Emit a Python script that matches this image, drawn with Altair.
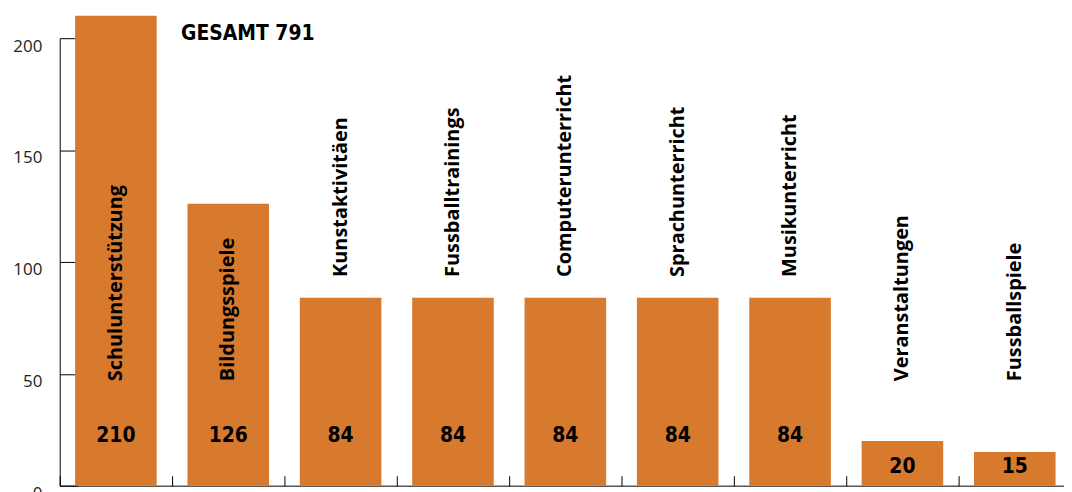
import altair as alt
import pandas as pd

categories = ["Schulunterstützung", "Bildungsspiele", "Kunstaktivitäen", "Fussballtrainings",
              "Computerunterricht", "Sprachunterricht", "Musikunterricht", "Veranstaltungen",
              "Fussballspiele"]
values = [210, 126, 84, 84, 84, 84, 84, 20, 15]
y_ticks = [0, 50, 100, 150, 200]
total_label = "GESAMT 791"

ORANGE = "#D77A2E"
W = 1010
H = 450
FULL = 1017
COND = "DejaVu Sans Condensed"

df = pd.DataFrame({"cat": categories, "value": values})

xenc = alt.X("cat:N", sort=categories,
             scale=alt.Scale(range=[0, FULL], paddingInner=0.274, paddingOuter=0.137),
             axis=alt.Axis(orient="top", offset=-H, labels=False, title=None,
                           ticks=True, tickSize=10, tickColor="black", tickWidth=1,
                           bandPosition=0, tickOffset=-15.5,
                           domain=True, domainColor="black", domainWidth=1, grid=False))

yscale = alt.Scale(domain=[0, 200], nice=False)

base = alt.Chart(df).encode(x=xenc)

bars = base.mark_bar(color=ORANGE).encode(
    y=alt.Y("value:Q", scale=yscale,
            axis=alt.Axis(orient="left", values=y_ticks, title=None, ticks=False, tickSize=0,
                          labelPadding=18, labelFont="Open Sans", labelFontSize=17,
                          labelColor="#222222", labelBaseline="middle", labelOffset=8,
                          domain=True, domainColor="black", domainWidth=1, grid=False))
)

vals = base.transform_calculate(
    lpos="datum.value > 50 ? 22.4 : 8.2"
).mark_text(font=COND, fontWeight="bold", fontSize=21,
            color="black", align="center", baseline="middle").encode(
    y=alt.Y("lpos:Q", scale=yscale,
            axis=alt.Axis(orient="right", offset=-W, values=y_ticks, labels=False, title=None,
                          ticks=True, tickSize=18, tickColor="black", tickWidth=1,
                          domain=False, grid=False)),
    text="value:Q",
)

names = base.transform_calculate(
    cpos="datum.value > 100 ? 46.7 : max(46.7, datum.value + 9.3)"
).mark_text(font="Open Sans", fontWeight="bold", fontSize=20, color="black",
            angle=270, align="left", baseline="middle").encode(
    y=alt.Y("cpos:Q", scale=yscale, axis=None),
    text="cat:N",
)

chart = alt.layer(bars, vals, names).resolve_axis(y="independent").properties(
    width=W, height=H,
    autosize=alt.AutoSizeParams(type="none"),
    padding={"left": 52, "top": 29, "right": 0, "bottom": 5},
    title=alt.TitleParams(total_label, anchor="start", font=COND,
                          fontWeight="bold", fontSize=21, color="black",
                          baseline="alphabetic", offset=0, dx=122, dy=45, frame="group"),
).configure_view(stroke=None)

chart.save("out.html", embed_options={"renderer": "svg", "actions": False})
